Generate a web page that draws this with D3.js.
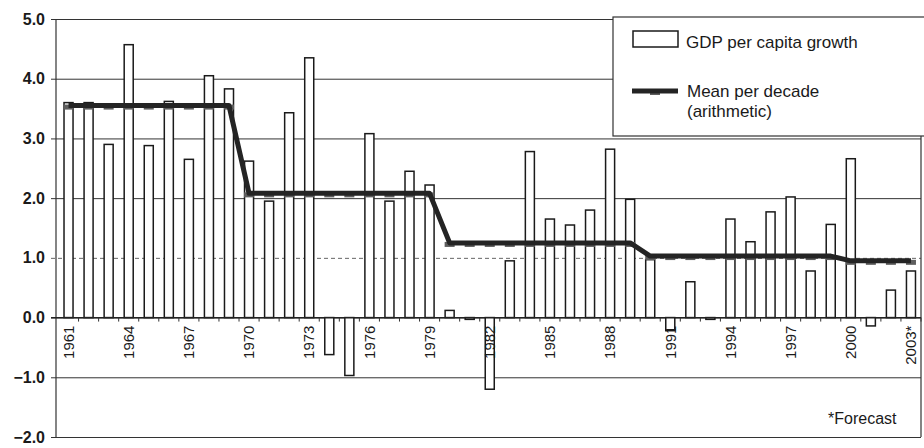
<!DOCTYPE html>
<html><head><meta charset="utf-8">
<script src="https://cdn.jsdelivr.net/npm/d3@7"></script>
<style>
body{margin:0;background:#fff}
svg{display:block}
text{font-family:"Liberation Sans",Arial,sans-serif;fill:#1a1a1a}
</style>
</head><body>
<svg id="c" width="924" height="448"></svg>
<script>
// ---- data ----
const years = [1961,1962,1963,1964,1965,1966,1967,1968,1969,1970,
               1971,1972,1973,1974,1975,1976,1977,1978,1979,1980,
               1981,1982,1983,1984,1985,1986,1987,1988,1989,1990,
               1991,1992,1993,1994,1995,1996,1997,1998,1999,2000,
               2001,2002,2003];
const growth = [3.60,3.60,2.90,4.57,2.88,3.62,2.65,4.05,3.83,2.62,
                1.95,3.43,4.35,-0.62,-0.97,3.08,1.95,2.45,2.22,0.12,
                -0.03,-1.20,0.95,2.78,1.65,1.55,1.80,2.82,1.98,0.97,
                -0.22,0.60,-0.03,1.65,1.27,1.77,2.02,0.78,1.56,2.66,
                -0.14,0.46,0.78];
const decadeMean = [3.55,3.55,3.55,3.55,3.55,3.55,3.55,3.55,3.55,
                    2.08,2.08,2.08,2.08,2.08,2.08,2.08,2.08,2.08,2.08,
                    1.25,1.25,1.25,1.25,1.25,1.25,1.25,1.25,1.25,1.25,
                    1.03,1.03,1.03,1.03,1.03,1.03,1.03,1.03,1.03,1.03,
                    0.95,0.95,0.95,0.95];
const yTicks = [5,4,3,2,1,0,-1,-2];
const labelYears = [1961,1964,1967,1970,1973,1976,1979,1982,1985,1988,1991,1994,1997,2000,2003];
const forecastYears = [2003];
const legendBar = "GDP per capita growth";
const legendLine = ["Mean per decade","(arithmetic)"];
const footnote = "*Forecast";

// ---- drawing ----
const svg = d3.select("#c");
const L = 56, R = 921;
const x = d3.scaleBand().domain(years).range([58.5, 921]).paddingInner(0.55).paddingOuter(0.275);
const y = d3.scaleLinear().domain([-2, 5]).range([437, 19]);
const bw = x.bandwidth(), step = x.step();
const cx = d => x(d) + bw / 2;

// gridlines + y labels
const gy = svg.append("g").attr("transform", `translate(51,0)`)
  .call(d3.axisLeft(y).tickValues(yTicks).tickSize(-(R - 51)).tickPadding(6)
        .tickFormat(d3.format(".1f")));
gy.select(".domain").remove();
gy.selectAll(".tick line").attr("stroke", "#333").attr("stroke-width", 1)
  .filter(d => d === 1).attr("stroke", "#666").attr("stroke-dasharray", "4,3");
gy.selectAll(".tick text").attr("font-size", 16).attr("font-weight", "bold")
  .attr("font-family", '"Liberation Sans",Arial,sans-serif').attr("fill", "#1a1a1a");

// frame lines
svg.append("line").attr("x1", L).attr("x2", L).attr("y1", y(5)).attr("y2", y(-2))
  .attr("stroke", "#333").attr("stroke-width", 1.2);
svg.append("line").attr("x1", R).attr("x2", R).attr("y1", y(5)).attr("y2", y(-2))
  .attr("stroke", "#333").attr("stroke-width", 1.2);

// bars
svg.append("g").selectAll("rect").data(years).join("rect")
  .attr("x", d => x(d))
  .attr("width", bw)
  .attr("y", (d, i) => y(Math.max(0, growth[i])))
  .attr("height", (d, i) => Math.abs(y(growth[i]) - y(0)))
  .attr("fill", "#fff").attr("stroke", "#1a1a1a").attr("stroke-width", 1.5);

// zero line
svg.append("line").attr("x1", 51).attr("x2", R).attr("y1", y(0)).attr("y2", y(0))
  .attr("stroke", "#222").attr("stroke-width", 1.2);

// small ticks between bars
svg.append("g").selectAll("line").data(years).join("line")
  .attr("x1", d => cx(d) + step / 2).attr("x2", d => cx(d) + step / 2)
  .attr("y1", y(0)).attr("y2", y(0) + 4)
  .attr("stroke", "#333").attr("stroke-width", 1);

// x labels
const gx = svg.append("g").attr("transform", `translate(0,${y(0)})`)
  .call(d3.axisBottom(x).tickValues(labelYears).tickSize(0)
        .tickFormat(d => forecastYears.includes(d) ? d + "*" : String(d)));
gx.select(".domain").remove();
gx.selectAll(".tick text")
  .attr("transform", "rotate(-90)")
  .attr("x", -8).attr("y", 0).attr("dy", "0.35em")
  .style("text-anchor", "end")
  .attr("font-size", 15)
  .attr("font-family", '"Liberation Sans",Arial,sans-serif').attr("fill", "#1a1a1a");

// mean per decade line with dash markers
const pts = years.map((d, i) => [cx(d), y(decadeMean[i])]);
svg.append("g").selectAll("rect").data(pts).join("rect")
  .attr("x", d => d[0] - 5).attr("y", d => d[1] - 1)
  .attr("width", 10).attr("height", 5).attr("fill", "#5e5e5e");
svg.append("path").datum(pts)
  .attr("d", d3.line())
  .attr("fill", "none").attr("stroke", "#242424").attr("stroke-width", 5)
  .attr("stroke-linejoin", "round");

// legend
const lg = svg.append("g");
lg.append("rect").attr("x", 613).attr("y", 17).attr("width", 320).attr("height", 119)
  .attr("fill", "#fff").attr("stroke", "#333").attr("stroke-width", 1.2);
lg.append("rect").attr("x", 633).attr("y", 31).attr("width", 45).attr("height", 16)
  .attr("fill", "#fff").attr("stroke", "#1a1a1a").attr("stroke-width", 1.5);
lg.append("text").attr("x", 686).attr("y", 48).attr("font-size", 17).text(legendBar);
lg.append("rect").attr("x", 650).attr("y", 90).attr("width", 10).attr("height", 5).attr("fill", "#5e5e5e");
lg.append("line").attr("x1", 632).attr("x2", 678).attr("y1", 91).attr("y2", 91)
  .attr("stroke", "#242424").attr("stroke-width", 5);
lg.append("text").attr("x", 687).attr("y", 97).attr("font-size", 17).text(legendLine[0]);
lg.append("text").attr("x", 687).attr("y", 117).attr("font-size", 17).text(legendLine[1]);

// footnote
svg.append("text").attr("x", 828).attr("y", 424).attr("font-size", 16).text(footnote);
</script>
</body></html>
